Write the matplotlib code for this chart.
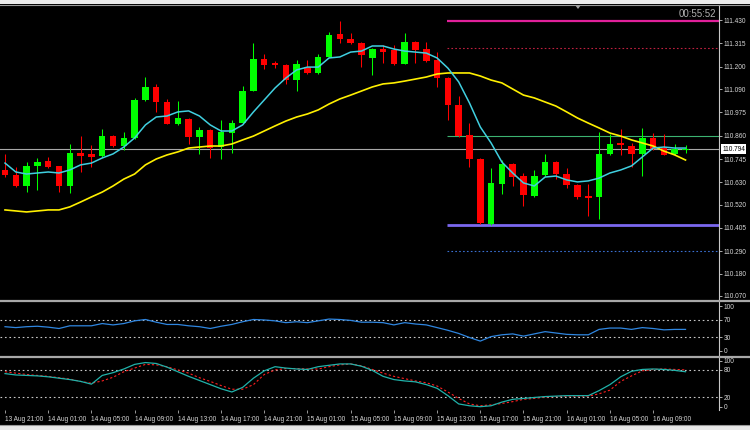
import matplotlib
matplotlib.use("Agg")
import matplotlib.pyplot as plt
import numpy as np
from matplotlib.lines import Line2D
from matplotlib.patches import Rectangle, Polygon

plt.rcParams['font.family'] = ['Liberation Sans', 'DejaVu Sans']

# ---------------- data (hourly USDJPY-like candles) ----------------
opens = [110.691, 110.666, 110.612, 110.711, 110.735, 110.711, 110.612, 110.775, 110.770, 110.760,
         110.858, 110.809, 110.849, 111.036, 111.100, 111.026, 110.918, 110.942, 110.853, 110.888,
         110.804, 110.873, 110.922, 111.080, 111.238, 111.218, 111.208, 111.134, 111.198, 111.169,
         111.248, 111.361, 111.336, 111.317, 111.243, 111.287, 111.282, 111.213, 111.322, 111.287,
         111.233, 111.144, 111.011, 110.863, 110.745, 110.425, 110.622, 110.720, 110.661, 110.563,
         110.666, 110.730, 110.671, 110.617, 110.563, 110.558, 110.770, 110.824, 110.809, 110.770,
         110.849, 110.799, 110.770, 110.789]
highs = [110.770, 110.706, 110.730, 110.750, 110.755, 110.711, 110.819, 110.858, 110.814, 110.893,
         110.863, 110.878, 111.046, 111.149, 111.115, 111.041, 111.031, 110.947, 110.903, 110.893,
         110.937, 110.937, 111.105, 111.317, 111.262, 111.228, 111.213, 111.233, 111.233, 111.262,
         111.371, 111.425, 111.366, 111.322, 111.292, 111.307, 111.307, 111.366, 111.327, 111.322,
         111.272, 111.149, 111.056, 110.922, 110.750, 110.701, 110.740, 110.725, 110.676, 110.691,
         110.770, 110.735, 110.701, 110.622, 110.622, 110.878, 110.868, 110.893, 110.824, 110.898,
         110.873, 110.868, 110.819, 110.814]
lows = [110.656, 110.607, 110.582, 110.592, 110.701, 110.582, 110.578, 110.681, 110.706, 110.755,
        110.804, 110.789, 110.844, 111.031, 110.977, 110.918, 110.913, 110.819, 110.770, 110.750,
        110.745, 110.775, 110.918, 111.080, 111.189, 111.194, 111.115, 111.080, 111.164, 111.164,
        111.248, 111.317, 111.312, 111.198, 111.159, 111.218, 111.208, 111.213, 111.218, 111.223,
        111.100, 110.937, 110.853, 110.706, 110.425, 110.420, 110.573, 110.612, 110.513, 110.558,
        110.661, 110.646, 110.602, 110.548, 110.464, 110.449, 110.765, 110.765, 110.706, 110.661,
        110.789, 110.765, 110.765, 110.775]
closes = [110.666, 110.612, 110.711, 110.730, 110.706, 110.612, 110.775, 110.760, 110.755, 110.858,
          110.809, 110.849, 111.036, 111.100, 111.026, 110.918, 110.947, 110.853, 110.888, 110.799,
          110.878, 110.922, 111.080, 111.238, 111.208, 111.208, 111.134, 111.213, 111.169, 111.248,
          111.356, 111.336, 111.317, 111.258, 111.287, 111.272, 111.213, 111.322, 111.282, 111.228,
          111.144, 111.011, 110.858, 110.745, 110.430, 110.627, 110.720, 110.656, 110.568, 110.661,
          110.730, 110.671, 110.617, 110.558, 110.553, 110.770, 110.819, 110.814, 110.770, 110.849,
          110.794, 110.765, 110.794, 110.794]

ma_fast = [110.725, 110.681, 110.671, 110.676, 110.681, 110.676, 110.691, 110.716, 110.725, 110.750,
           110.770, 110.804, 110.849, 110.913, 110.952, 110.957, 110.977, 110.982, 110.957, 110.913,
           110.883, 110.883, 110.913, 110.977, 111.036, 111.095, 111.144, 111.184, 111.198, 111.198,
           111.243, 111.248, 111.272, 111.277, 111.302, 111.302, 111.287, 111.277, 111.272, 111.267,
           111.243, 111.193, 111.125, 111.021, 110.903, 110.824, 110.730, 110.676, 110.627, 110.612,
           110.656, 110.661, 110.642, 110.632, 110.637, 110.651, 110.676, 110.691, 110.711, 110.755,
           110.799, 110.804, 110.799, 110.799]
ma_slow = [110.494, 110.489, 110.484, 110.489, 110.494, 110.494, 110.509, 110.533, 110.558, 110.582,
           110.612, 110.646, 110.671, 110.716, 110.745, 110.765, 110.780, 110.799, 110.804, 110.809,
           110.809, 110.819, 110.839, 110.858, 110.883, 110.908, 110.932, 110.952, 110.967, 110.987,
           111.016, 111.041, 111.060, 111.080, 111.100, 111.115, 111.120, 111.129, 111.139, 111.149,
           111.164, 111.169, 111.169, 111.169, 111.154, 111.134, 111.120, 111.090, 111.060, 111.046,
           111.026, 111.006, 110.977, 110.947, 110.922, 110.898, 110.873, 110.858, 110.839, 110.824,
           110.809, 110.784, 110.765, 110.740]

rsi = [54, 52, 54, 55, 53, 50, 56, 56, 56, 61, 58, 61, 67, 70, 64, 59, 59, 56, 54, 50,
       55, 59, 65, 70, 69, 67, 63, 65, 63, 67, 71, 70, 68, 64, 64, 63, 58, 63, 60, 58,
       52, 46, 39, 30, 22, 32, 36, 38, 33, 38, 43, 40, 37, 36, 36, 48, 51, 51, 48, 52,
       50, 47, 48, 48]
stoch_k = [72, 69, 68, 67, 65, 62, 59, 55, 49, 68, 74, 82, 92, 96, 94, 86, 76, 66, 57, 48,
           39, 32, 42, 62, 78, 87, 84, 82, 81, 87, 90, 93, 93, 88, 79, 66, 59, 56, 54, 48,
           40, 24, 6, 2, 0, 2, 10, 16, 18, 20, 22, 23, 24, 24, 24, 35, 48, 65, 77, 81,
           82, 81, 79, 76]
stoch_d = [76, 73, 70, 68, 66, 63, 60, 55, 51, 56, 64, 76, 84, 92, 91, 87, 80, 73, 63, 55,
           46, 38, 38, 48, 70, 80, 83, 83, 82, 82, 87, 91, 93, 89, 81, 73, 66, 61, 56, 52,
           45, 32, 18, 6, 2, 4, 7, 11, 16, 18, 21, 22, 23, 23, 23, 28, 36, 55, 67, 78,
           81, 82, 81, 80]

time_labels = ["13 Aug 21:00", "14 Aug 01:00", "14 Aug 05:00", "14 Aug 09:00", "14 Aug 13:00",
               "14 Aug 17:00", "14 Aug 21:00", "15 Aug 01:00", "15 Aug 05:00", "15 Aug 09:00",
               "15 Aug 13:00", "15 Aug 17:00", "15 Aug 21:00", "16 Aug 01:00", "16 Aug 05:00",
               "16 Aug 09:00"]
price_ticks = [111.430, 111.315, 111.200, 111.090, 110.975, 110.860, 110.745, 110.630,
               110.520, 110.405, 110.290, 110.180, 110.070]
rsi_ticks = [100, 70, 30, 0]
rsi_levels = [70, 30]
stoch_ticks = [100, 80, 20, 0]
stoch_levels = [80, 20]

current_price = 110.794
level_magenta = 111.425
level_red_dot = 111.294
level_green = 110.858
level_purple = 110.420
level_blue_dot = 110.290
levels_start = 40.9          # candle index where the drawn levels begin
timer_text = "00:55:52"

# ---------------- layout ----------------
W, H = 750, 430
fig = plt.figure(figsize=(W / 100, H / 100), dpi=100, facecolor='black')
RIGHT = 719


def rect(top, bottom):
    return [0, 1 - bottom / H, RIGHT / W, (bottom - top) / H]


ax = fig.add_axes(rect(5, 299))
ax_r = fig.add_axes(rect(302, 355), sharex=ax)
ax_s = fig.add_axes(rect(358, 410), sharex=ax)

LBL = '#D8D8D8'
FS = 4.7
for a in (ax, ax_r, ax_s):
    a.set_facecolor('black')
    for s in ('top', 'left', 'bottom'):
        a.spines[s].set_visible(False)
    a.spines['right'].set_color('#C8C8C8')
    a.spines['right'].set_linewidth(0.8)
    a.yaxis.tick_right()
    a.tick_params(axis='y', colors='#C8C8C8', labelcolor=LBL, labelsize=FS,
                  length=2, width=0.6, pad=1.2)
    a.tick_params(axis='x', bottom=False, labelbottom=False)

x = np.arange(len(opens))
ax.set_xlim(-0.463, 66.1)
ax.set_ylim(110.055, 111.504)

# level lines
ax.axhline(current_price, color='#A8A8A8', lw=0.8, zorder=1)
xe = 66.1
ax.hlines(level_magenta, levels_start, xe, color='#E0209A', lw=1.6, zorder=1)
ax.hlines(level_red_dot, levels_start, xe, color='#C02040', lw=0.8, linestyles=(0, (1.5, 2)), zorder=1)
ax.hlines(level_green, levels_start, xe, color='#3CB371', lw=0.8, zorder=1)
ax.hlines(level_purple, levels_start, xe, color='#7B68EE', lw=2.0, zorder=1)
ax.hlines(level_blue_dot, levels_start, xe, color='#3A6FD0', lw=0.8, linestyles=(0, (1.5, 2)), zorder=1)

# candles
o = np.array(opens); c = np.array(closes); hi = np.array(highs); lo = np.array(lows)
up = c >= o
cols = np.where(up, '#00FF00', '#FF0000')
ax.vlines(x, lo, hi, colors=cols, lw=0.75, zorder=2)
body_lo = np.minimum(o, c)
body_h = np.maximum(np.abs(c - o), 0.004)
ax.bar(x, body_h, bottom=body_lo, width=0.6, color=cols, edgecolor='none', zorder=3)

# moving averages
ax.plot(x, ma_slow, color='#FFF000', lw=1.2, zorder=4)
ax.plot(x, ma_fast, color='#40D0E0', lw=1.1, zorder=4)

ax.set_yticks(price_ticks)
ax.set_yticklabels([f"{v:.3f}" for v in price_ticks])
ax.annotate(f"{current_price:.3f}", xy=(1, current_price), xycoords=('axes fraction', 'data'),
            xytext=(2.2, 0), textcoords='offset points', ha='left', va='center',
            fontsize=FS, color='black',
            bbox=dict(boxstyle='square,pad=0.2', fc='white', ec='none'))

# RSI
ax_r.set_ylim(-8.9, 108.9)
for lv in rsi_levels:
    ax_r.axhline(lv, color='#C8C8C8', lw=0.8, linestyle=(0, (1.5, 2.5)))
ax_r.plot(x, rsi, color='#2F86E0', lw=0.9)
ax_r.set_yticks(rsi_ticks)
ax_r.set_yticklabels([str(v) for v in rsi_ticks])

# Stochastic
ax_s.set_ylim(-7.2, 105.9)
for lv in stoch_levels:
    ax_s.axhline(lv, color='#C8C8C8', lw=0.8, linestyle=(0, (1.5, 2.5)))
ax_s.plot(x, stoch_d, color='#FF2020', lw=0.8, linestyle=(0, (2, 2)))
ax_s.plot(x, stoch_k, color='#20B2AA', lw=0.9)
ax_s.set_yticks(stoch_ticks)
ax_s.set_yticklabels([str(v) for v in stoch_ticks])

ax_s.set_xticks(np.arange(0, 4 * len(time_labels), 4))
ax_s.set_xticklabels(time_labels)
ax_s.tick_params(axis='x', bottom=True, labelbottom=True, colors='#B0B0B0',
                 labelcolor=LBL, labelsize=FS, length=2.5, width=0.6, pad=1.5)
for t in ax_s.get_xticklabels():
    t.set_ha('left')
plt.setp(ax.get_xticklabels(), visible=False)
plt.setp(ax_r.get_xticklabels(), visible=False)

# window chrome
fig.patches.append(Rectangle((0, 1 - 4 / H), 1, 4 / H, transform=fig.transFigure,
                             fc='#ECECEC', ec='none'))
fig.lines.append(Line2D([0, 1], [1 - 4.5 / H, 1 - 4.5 / H], transform=fig.transFigure,
                        color='#9A9A9A', lw=0.8))
fig.patches.append(Rectangle((0, 0), 1, 5 / H, transform=fig.transFigure,
                             fc='#E8E8E8', ec='none'))
fig.lines.append(Line2D([0, 1], [5.5 / H, 5.5 / H], transform=fig.transFigure,
                        color='#9A9A9A', lw=0.8))
for yy in (300.5, 356.5):
    fig.lines.append(Line2D([0, 1], [1 - yy / H, 1 - yy / H], transform=fig.transFigure,
                            color='#A8A8A8', lw=1.6))
fig.patches.append(Polygon([(575 / W, 1 - 5 / H), (581 / W, 1 - 5 / H), (578 / W, 1 - 9 / H)],
                           closed=True, transform=fig.transFigure, fc='#A0A0A0', ec='none'))
fig.text(716 / W, 1 - 14 / H, timer_text, ha='right', va='center', color='#B0B0B0', fontsize=7)

fig.savefig('out.png', dpi=100, facecolor='black')
